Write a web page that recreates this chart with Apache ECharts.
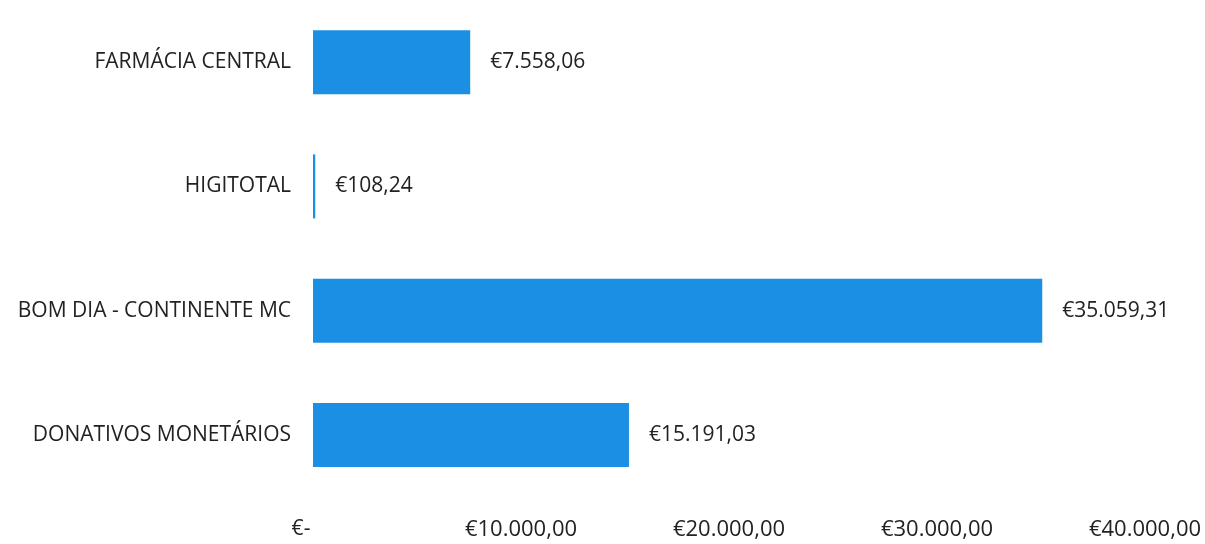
<!DOCTYPE html>
<html>
<head>
<meta charset="utf-8">
<script src="https://cdn.jsdelivr.net/npm/echarts@6/dist/echarts.min.js"></script>
<style>html,body{margin:0;padding:0;background:#fff}#c{width:1205px;height:544px}</style>
</head>
<body>
<div id="c"></div>
<script>
const categories = ['FARMÁCIA CENTRAL', 'HIGITOTAL', 'BOM DIA - CONTINENTE MC', 'DONATIVOS MONETÁRIOS'];
const values = [7558.06, 108.24, 35059.31, 15191.03];
const axisMin = 0, axisMax = 40000, axisStep = 10000;

function fmtEuro(v) {
  if (v === 0) return '€-';
  const parts = v.toFixed(2).split('.');
  const intPart = parts[0].replace(/\B(?=(\d{3})+(?!\d))/g, '.');
  return '€' + intPart + ',' + parts[1];
}

const FONT = '"Open Sans", sans-serif';
const chart = echarts.init(document.getElementById('c'));
chart.setOption({
  animation: false,
  backgroundColor: '#fff',
  textStyle: { fontFamily: FONT },
  grid: { left: 313, right: 60, top: -5, bottom: 47, containLabel: false },
  xAxis: {
    type: 'value', min: axisMin, max: axisMax, interval: axisStep,
    splitLine: { show: false }, axisLine: { show: false }, axisTick: { show: false },
    axisLabel: {
      margin: 22, fontSize: 22, color: '#222', fontFamily: FONT,
      formatter: v => v === 0 ? '{z|€-}' : fmtEuro(v),
      rich: { z: { fontSize: 21, color: '#222', padding: [0, 24, 0, 0], fontFamily: FONT } }
    }
  },
  yAxis: {
    type: 'category', data: categories, inverse: true,
    axisLine: { show: false }, axisTick: { show: false },
    axisLabel: { margin: 22, fontSize: 21, color: '#222', fontFamily: FONT }
  },
  series: [{
    type: 'bar', data: values, barWidth: 64,
    itemStyle: { color: '#1A8FE4' },
    label: {
      show: true, position: 'right', distance: 20, fontSize: 21, color: '#222',
      fontFamily: FONT,
      formatter: p => fmtEuro(p.value)
    }
  }]
});
</script>
</body>
</html>
